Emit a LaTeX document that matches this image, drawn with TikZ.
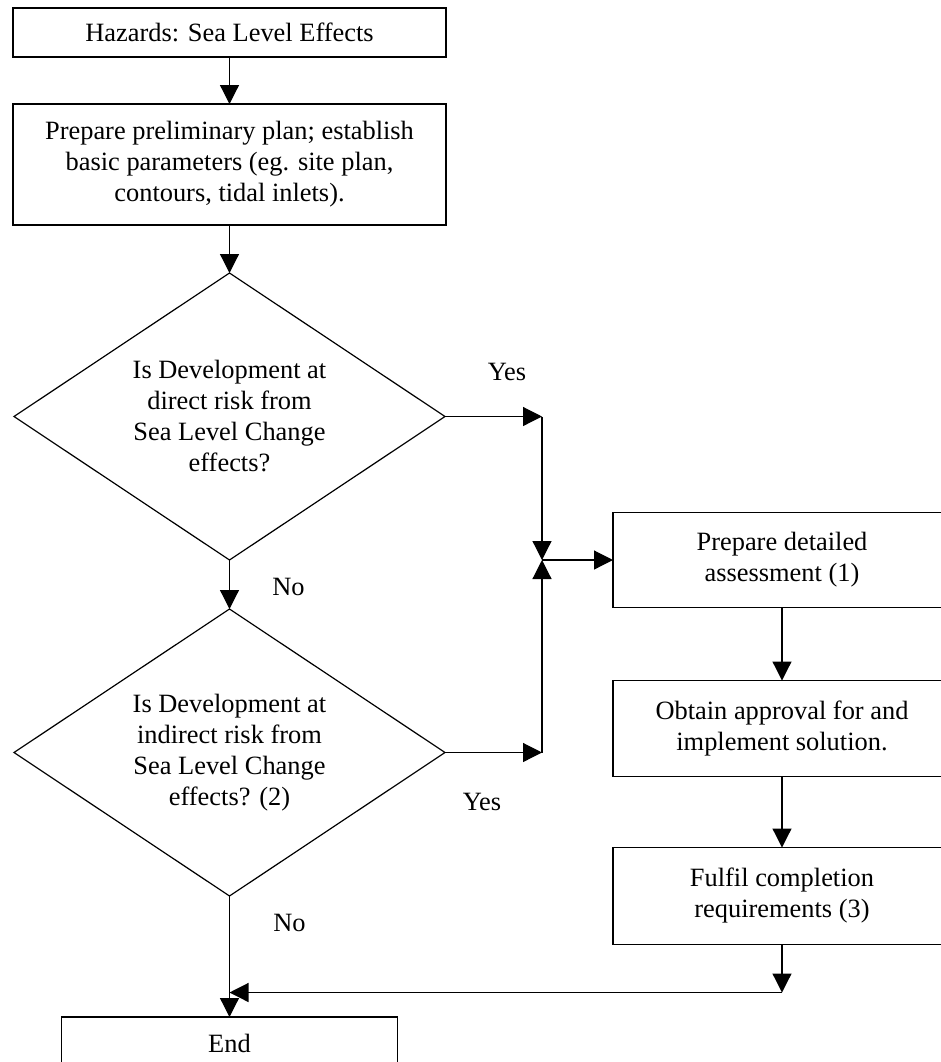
\documentclass[tikz,border=0pt]{standalone}
\usepackage{fontspec}
\setmainfont{Liberation Serif}
\usetikzlibrary{shapes.geometric,positioning,arrows.meta}

\begin{document}
\begin{tikzpicture}
  [x=0.5pt,y=-0.5pt,
   every node/.style={font=\fontsize{13.2pt}{15.5pt}\selectfont, outer sep=0pt},
   box/.style={
     rectangle,
     draw,
     line width=0.9pt,
     align=center,
     minimum width=216.5pt,
     minimum height=24.5pt
     },
   decision/.style={
     diamond,
     draw,
     line width=0.6pt,
     align=center,
     inner sep=0pt,
     aspect=1.5,
     minimum width=215.5pt,
     minimum height=143.5pt
     },
   arr/.style={-{Triangle[length=9.5pt,width=9.5pt]}, line width=0.6pt}
  ]
  \useasboundingbox (0,0) rectangle (941,1062);
  \clip (0,0) rectangle (941,1062);

  % left column
  \node [box] (hazards) at (229.5,32.5) {Hazards: Sea Level Effects};
  \node [box, minimum height=60.5pt, below=23.5pt of hazards] (prelim)
    {Prepare preliminary plan; establish\\ basic parameters (eg. site plan,\\ contours, tidal inlets).};
  \node [decision, below=24pt of prelim] (direct)
    {Is Development at\\ direct risk from\\ Sea Level Change\\ effects?};
  \node [decision, below=24.5pt of direct] (indirect)
    {Is Development at\\ indirect risk from\\ Sea Level Change\\ effects? (2)};
  \node [box, minimum width=168pt, minimum height=26pt, below=60.5pt of indirect] (endbox) {End};

  % junction of the two yes branches
  \coordinate (jtop) at ([xshift=48.5pt]direct.east);
  \coordinate (join) at (jtop |- direct.south);
  \coordinate (jbot) at (jtop |- indirect.east);

  % right column
  \node [box, minimum width=169pt, minimum height=47.5pt, right=35.5pt of join] (assess)
    {Prepare detailed\\ assessment (1)};
  \node [box, minimum width=169pt, minimum height=48pt, below=36.5pt of assess] (approve)
    {Obtain approval for and\\ implement solution.};
  \node [box, minimum width=169pt, minimum height=48.5pt, below=35.5pt of approve] (fulfil)
    {Fulfil completion\\ requirements (3)};

  \coordinate (back) at ([yshift=-24pt]fulfil.south);
  \coordinate (merge) at (endbox.north |- back);

  % labels
  \node (yesdirect) at ([xshift=31pt,yshift=22.5pt]direct.east) {Yes};
  \node (nodirect) at ([xshift=29.5pt,yshift=-13.5pt]direct.south) {No};
  \node (yesindirect) at ([xshift=18.5pt,yshift=-24.5pt]indirect.east) {Yes};
  \node (noindirect) at ([xshift=30pt,yshift=-13.5pt]indirect.south) {No};

  \draw [arr] (hazards) -- (prelim);
  \draw [arr] (prelim) -- (direct);
  \draw [arr] (direct) -- (indirect);
  \draw [arr] (indirect) -- (endbox);
  \draw [arr] (direct.east) -- (jtop);
  \draw [arr] (jtop) -- (join);
  \draw [arr] (indirect.east) -- (jbot);
  \draw [arr] (jbot) -- (join);
  \draw [arr] (join) -- (assess);
  \draw [arr] (assess) -- (approve);
  \draw [arr] (approve) -- (fulfil);
  \draw [arr] (fulfil) -- (back);
  \draw [arr] (back) -- (merge);
\end{tikzpicture}
\end{document}
